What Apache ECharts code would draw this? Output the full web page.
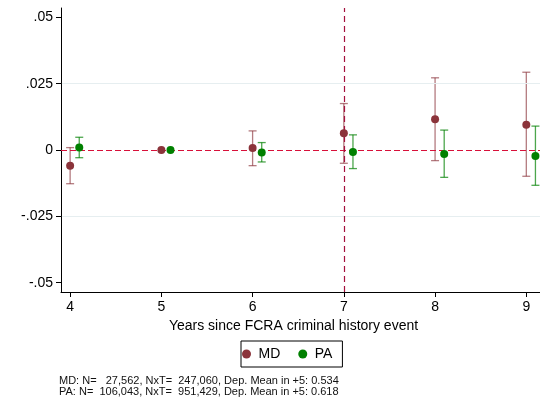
<!DOCTYPE html>
<html lang="en">
<head>
    <meta charset="utf-8"/>
    <title>FCRA event study</title>
    <script src="https://cdn.jsdelivr.net/npm/echarts@6/dist/echarts.min.js"></script>
</head>
<body style="margin:0;background:#fff;">
<div id="chart" style="width:540px;height:402px;"></div>
<script type="text/javascript">
    // years since event, PA is shifted right a bit so the bars don't overlap
    const years = [4, 5, 6, 7, 8, 9];
    const paShift = 0.1;

    const mdEst = [-0.0059, 0, 0.0008, 0.0063, 0.0116, 0.0095];
    const mdLo = [-0.0127, null, -0.0059, -0.0050, -0.0040, -0.0099];
    const mdHi = [0.0009, null, 0.0072, 0.0175, 0.0272, 0.0293];

    const paEst = [0.0009, 0, -0.0009, -0.0008, -0.0015, -0.0023];
    const paLo = [-0.0029, null, -0.0045, -0.0070, -0.0103, -0.0133];
    const paHi = [0.0048, null, 0.0028, 0.0057, 0.0075, 0.0090];

    const yTicks = [-0.05, -0.025, 0, 0.025, 0.05];
    const gridValues = [-0.025, 0.025];
    const notes = [
        'MD: N=   27,562, NxT=  247,060, Dep. Mean in +5: 0.534',
        'PA: N=  106,043, NxT=  951,429, Dep. Mean in +5: 0.618'
    ];

    const xMin = 3.9, xMax = 9.15;
    const mdColor = '#8b333a';
    const mdBar = 'rgba(139,51,58,0.65)';
    const paColor = '#008000';
    const paBar = 'rgba(0,128,0,0.7)';
    const refColor = '#d8103a';
    const eventColor = '#a3103c';
    const font = 'Liberation Sans, Arial, sans-serif';

    function points(est, shift) {
        return years.map(function (y, i) {
            return [y + shift, est[i]];
        });
    }

    function ciData(lo, hi, shift) {
        let out = [];
        years.forEach(function (y, i) {
            if (lo[i] !== null) out.push([y + shift, lo[i], hi[i]]);
        });
        return out;
    }

    function errorBar(color) {
        return function (params, api) {
            let lo = api.coord([api.value(0), api.value(1)]);
            let hi = api.coord([api.value(0), api.value(2)]);
            let cap = 4;
            let style = {stroke: color, lineWidth: 1.3};
            return {
                type: 'group',
                children: [
                    {type: 'line', shape: {x1: lo[0], y1: lo[1], x2: hi[0], y2: hi[1]}, style: style},
                    {type: 'line', shape: {x1: lo[0] - cap, y1: lo[1], x2: lo[0] + cap, y2: lo[1]}, style: style},
                    {type: 'line', shape: {x1: hi[0] - cap, y1: hi[1], x2: hi[0] + cap, y2: hi[1]}, style: style}
                ]
            };
        };
    }

    function fmtY(v) {
        if (Math.abs(v) < 1e-9) return '0';
        return String(v).replace('0.', '.');
    }

    // faint horizontal grid lines, kept off the y axis line
    let gridLines = gridValues.map(function (v) {
        return [
            {coord: [xMin + 0.01, v], lineStyle: {color: '#e6eef0', type: 'solid', width: 1}},
            {coord: [xMax, v]}
        ];
    });

    let chart = echarts.init(document.getElementById('chart'));
    chart.setOption({
        animation: false,
        textStyle: {fontFamily: font},
        grid: {left: 61, right: 0, top: 8, bottom: 110},
        title: {
            text: notes.join('\n'),
            left: 59,
            top: 376,
            padding: 0,
            textStyle: {fontSize: 11, fontWeight: 'normal', color: '#111', lineHeight: 10.5, fontFamily: font}
        },
        legend: {
            data: ['MD', 'PA'],
            left: 241,
            top: 341,
            padding: [6, 10, 6, 1],
            itemGap: 18,
            itemWidth: 14,
            itemHeight: 9,
            icon: 'circle',
            borderColor: '#000',
            borderWidth: 1,
            textStyle: {fontSize: 14, color: '#000', fontFamily: font}
        },
        xAxis: {
            type: 'value',
            min: xMin,
            max: xMax,
            name: 'Years since FCRA criminal history event',
            nameLocation: 'middle',
            nameGap: 26,
            nameTextStyle: {fontSize: 14, color: '#000', fontFamily: font, padding: [0, 14, 0, 0]},
            axisLine: {show: true, onZero: false, lineStyle: {color: '#000', width: 1}},
            axisTick: {show: true, customValues: years, length: 5, lineStyle: {color: '#000'}},
            axisLabel: {customValues: years, fontSize: 14, color: '#000', margin: 8},
            splitLine: {show: false}
        },
        yAxis: {
            type: 'value',
            min: -0.0535,
            max: 0.0535,
            axisLine: {show: true, onZero: false, lineStyle: {color: '#000', width: 1}},
            axisTick: {show: true, customValues: yTicks, length: 5, lineStyle: {color: '#000'}},
            axisLabel: {customValues: yTicks, fontSize: 14, color: '#000', margin: 8, formatter: fmtY},
            splitLine: {show: false}
        },
        series: [
            {
                name: 'MD-ci',
                type: 'custom',
                renderItem: errorBar(mdBar),
                data: ciData(mdLo, mdHi, 0),
                encode: {x: 0, y: [1, 2]},
                z: 3
            },
            {
                name: 'PA-ci',
                type: 'custom',
                renderItem: errorBar(paBar),
                data: ciData(paLo, paHi, paShift),
                encode: {x: 0, y: [1, 2]},
                z: 3
            },
            {
                name: 'MD',
                type: 'scatter',
                data: points(mdEst, 0),
                symbolSize: 8,
                itemStyle: {color: mdColor, opacity: 1},
                z: 5,
                markLine: {
                    silent: true,
                    symbol: 'none',
                    label: {show: false},
                    data: gridLines.concat([
                        {yAxis: 0, lineStyle: {color: refColor, type: [6, 3], width: 1.2}},
                        {xAxis: 7, lineStyle: {color: eventColor, type: [6, 4], width: 1.2}}
                    ])
                }
            },
            {
                name: 'PA',
                type: 'scatter',
                data: points(paEst, paShift),
                symbolSize: 8,
                itemStyle: {color: paColor, opacity: 1},
                z: 5
            }
        ]
    });
</script>
</body>
</html>
